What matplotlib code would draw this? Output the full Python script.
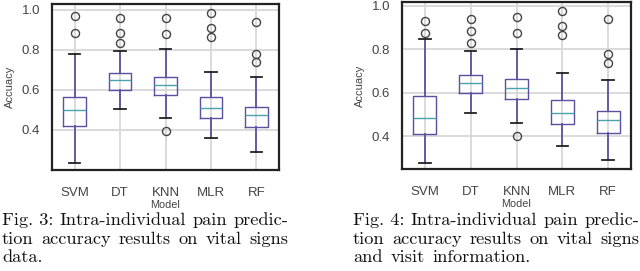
import matplotlib
matplotlib.use("Agg")
import matplotlib.pyplot as plt

plt.rcParams["font.family"] = ["Liberation Sans", "DejaVu Sans"]

models = ["SVM", "DT", "KNN", "MLR", "RF"]

# Fig. 3: vital signs data
v_whislo = [0.235, 0.506, 0.461, 0.359, 0.291]
v_q1     = [0.417, 0.597, 0.573, 0.457, 0.413]
v_med    = [0.500, 0.648, 0.623, 0.511, 0.473]
v_q3     = [0.565, 0.684, 0.664, 0.565, 0.516]
v_whishi = [0.780, 0.793, 0.805, 0.689, 0.663]
v_fliers = [[0.967, 0.884], [0.957, 0.884, 0.835], [0.957, 0.879, 0.397],
            [0.982, 0.909, 0.863], [0.939, 0.780, 0.737]]

# Fig. 4: vital signs and visit information
w_whislo = [0.277, 0.508, 0.462, 0.358, 0.291]
w_q1     = [0.412, 0.600, 0.571, 0.457, 0.415]
w_med    = [0.485, 0.646, 0.623, 0.508, 0.477]
w_q3     = [0.588, 0.683, 0.665, 0.568, 0.518]
w_whishi = [0.849, 0.792, 0.800, 0.691, 0.660]
w_fliers = [[0.931, 0.875], [0.942, 0.883, 0.828], [0.949, 0.877, 0.400],
            [0.977, 0.908, 0.865], [0.942, 0.777, 0.737]]

ytick_vals = [0.4, 0.6, 0.8, 1.0]

caption3 = [["Fig. 3:", "Intra-individual", "pain", "predic-"],
            ["tion", "accuracy", "results", "on", "vital", "signs"],
            ["data."]]
caption4 = [["Fig. 4:", "Intra-individual", "pain", "predic-"],
            ["tion", "accuracy", "results", "on", "vital", "signs"],
            ["and", "visit", "information."]]

BOX = "#5b50a0"
MED = "#4aa3aa"
TXT = "#444444"

fig = plt.figure(figsize=(6.4, 2.71), dpi=100)


def panel(rect, whislo, q1, med, q3, whishi, fliers, ylim):
    ax = fig.add_axes(rect)
    stats = []
    for i, m in enumerate(models):
        stats.append(dict(label=m, whislo=whislo[i], q1=q1[i], med=med[i],
                          q3=q3[i], whishi=whishi[i], fliers=fliers[i]))
    ax.bxp(stats, widths=0.5, showfliers=True,
           boxprops=dict(color=BOX, linewidth=1.0),
           whiskerprops=dict(color=BOX, linewidth=1.3),
           capprops=dict(color="#222222", linewidth=1.3),
           medianprops=dict(color=MED, linewidth=1.0),
           flierprops=dict(marker="o", markerfacecolor="none",
                           markeredgecolor="#444444", markersize=5.8,
                           markeredgewidth=1.0))
    ax.set_xlim(0.5, 5.5)
    ax.set_ylim(*ylim)
    ax.set_yticks(ytick_vals)
    ax.set_yticklabels([f"{v:.1f}" for v in ytick_vals])
    ax.grid(True, color="#d8d8d8", linewidth=1.3)
    ax.set_axisbelow(True)
    ax.tick_params(length=0, labelsize=9.5, labelcolor=TXT, pad=8.5)
    ax.tick_params(axis="x", pad=12)
    for s in ax.spines.values():
        s.set_color("#222222")
        s.set_linewidth(1.6)
    ax.set_ylabel("Accuacy", fontsize=8.0, color=TXT, labelpad=5)
    ax.set_xlabel("Model", fontsize=7.8, color=TXT, labelpad=1)
    return ax


panel([52 / 640, 101 / 271, 227 / 640, 166 / 271],
      v_whislo, v_q1, v_med, v_q3, v_whishi, v_fliers, (0.20, 1.028))
panel([402 / 640, 102 / 271, 229 / 640, 167 / 271],
      w_whislo, w_q1, w_med, w_q3, w_whishi, w_fliers, (0.25, 1.018))

renderer = fig.canvas.get_renderer()
line_y = [220, 239, 257]
FS = 13.2
TARGET = 286.0
CAP_FONT = ["cmr10", "DejaVu Serif"]


def width_of(s):
    t = fig.text(0, 0, s, family=CAP_FONT, fontsize=FS)
    w = t.get_window_extent(renderer).width
    t.remove()
    return w


space_w = width_of("a b") - width_of("ab")

for lines, x0 in ((caption3, 2), (caption4, 353)):
    for k, (words, y) in enumerate(zip(lines, line_y)):
        justify = k < len(lines) - 1
        texts = []
        widths = []
        for w in words:
            t = fig.text(0, 1 - y / 271, w, family=CAP_FONT, fontsize=FS,
                         color="#111111", va="center", ha="left")
            texts.append(t)
            widths.append(t.get_window_extent(renderer).width)
        if justify and len(words) > 1:
            gap = (TARGET - sum(widths)) / (len(words) - 1)
        else:
            gap = space_w * 1.3
        x = x0
        for t, wdt in zip(texts, widths):
            t.set_x(x / 640)
            x += wdt + gap

fig.savefig("out.png", dpi=100)
